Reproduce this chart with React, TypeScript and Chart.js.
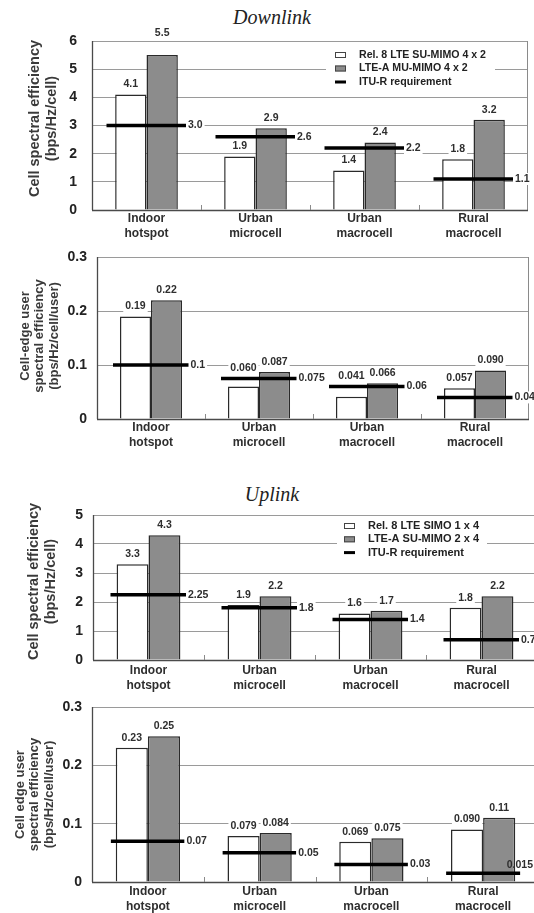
import React, { useEffect, useRef } from 'react';
import { Chart, registerables } from 'chart.js';

Chart.register(...registerables);

// ---------- data ----------
const categories = [
  ['Indoor', 'hotspot'],
  ['Urban', 'microcell'],
  ['Urban', 'macrocell'],
  ['Rural', 'macrocell'],
];

const dlCellRel8 = [4.1, 1.9, 1.4, 1.8];
const dlCellLteA = [5.5, 2.9, 2.4, 3.2];
const dlCellItu = [3.0, 2.6, 2.2, 1.1];

const dlEdgeRel8 = [0.19, 0.06, 0.041, 0.057];
const dlEdgeLteA = [0.22, 0.087, 0.066, 0.09];
const dlEdgeItu = [0.1, 0.075, 0.06, 0.04];

const ulCellRel8 = [3.3, 1.9, 1.6, 1.8];
const ulCellLteA = [4.3, 2.2, 1.7, 2.2];
const ulCellItu = [2.25, 1.8, 1.4, 0.7];

const ulEdgeRel8 = [0.23, 0.079, 0.069, 0.09];
const ulEdgeLteA = [0.25, 0.084, 0.075, 0.11];
const ulEdgeItu = [0.07, 0.05, 0.03, 0.015];

const dlLegend = ['Rel. 8 LTE SU-MIMO 4 x 2', 'LTE-A MU-MIMO 4 x 2', 'ITU-R requirement'];
const ulLegend = ['Rel. 8 LTE SIMO 1 x 4', 'LTE-A SU-MIMO 2 x 4', 'ITU-R requirement'];

const cellTitle = ['Cell spectral efficiency', '(bps/Hz/cell)'];
const dlEdgeTitle = ['Cell-edge user', 'spectral efficiency', '(bps/Hz/cell/user)'];
const ulEdgeTitle = ['Cell edge user', 'spectral efficiency', '(bps/Hz/cell/user)'];

const FONT = '"Liberation Sans", Arial, Helvetica, sans-serif';
Chart.defaults.font.family = FONT;

const WHITE_FILL = '#ffffff';
const GRAY_FILL = '#8c8c8c';
const BAR_BORDER = '#2a2a2a';

type LegendCfg = {
  labels: string[];
  box: [number, number, number, number];
  keyX: number;
  textX: number;
  rowY0: number;
  gap: number;
  size: number;
};

type PanelCfg = {
  top: number;
  width: number;
  height: number;
  padTop: number;
  padRight: number;
  yWidth: number;
  xHeight: number;
  xPad: number;
  yMax: number;
  yStep: number;
  decimals: number;
  tickPad: number;
  title: string[];
  titleSize: number;
  titleLH: number;
  titleX: number;
  titleShift: number;
  rightBorder: boolean;
  lineRadius: number;
  ituFmt: (v: number) => string;
  rel8: number[];
  lteA: number[];
  itu: number[];
  legend?: LegendCfg;
};

const sig2 = (v: number) => v.toPrecision(2);
const raw = (v: number) => String(v);

const panels: PanelCfg[] = [
  {
    top: 28, width: 534, height: 218, padTop: 13, padRight: 6,
    yWidth: 92, xHeight: 36, xPad: 1.5, yMax: 6, yStep: 1, decimals: 0, tickPad: 15,
    title: cellTitle, titleSize: 14.5, titleLH: 17, titleX: 35, titleShift: -7,
    rightBorder: true, lineRadius: 40, ituFmt: sig2,
    rel8: dlCellRel8, lteA: dlCellLteA, itu: dlCellItu,
    legend: { labels: dlLegend, box: [326, 46, 169, 44], keyX: 335, textX: 359, rowY0: 55, gap: 13.5, size: 10.6 },
  },
  {
    top: 246, width: 534, height: 209, padTop: 11, padRight: 5,
    yWidth: 97, xHeight: 36, xPad: 1.5, yMax: 0.3, yStep: 0.1, decimals: 1, tickPad: 10,
    title: dlEdgeTitle, titleSize: 13, titleLH: 14.5, titleX: 25, titleShift: -2,
    rightBorder: true, lineRadius: 38, ituFmt: raw,
    rel8: dlEdgeRel8, lteA: dlEdgeLteA, itu: dlEdgeItu,
  },
  {
    top: 500, width: 540, height: 196, padTop: 15, padRight: 3,
    yWidth: 93, xHeight: 36, xPad: 3.5, yMax: 5, yStep: 1, decimals: 0, tickPad: 10,
    title: cellTitle, titleSize: 14.5, titleLH: 17, titleX: 34, titleShift: -6,
    rightBorder: false, lineRadius: 38, ituFmt: raw,
    rel8: ulCellRel8, lteA: ulCellLteA, itu: ulCellItu,
    legend: { labels: ulLegend, box: [337, 518, 150, 40], keyX: 344, textX: 368, rowY0: 526, gap: 13.3, size: 11 },
  },
  {
    top: 696, width: 540, height: 217, padTop: 11, padRight: 1,
    yWidth: 92, xHeight: 31, xPad: 2.5, yMax: 0.3, yStep: 0.1, decimals: 1, tickPad: 10,
    title: ulEdgeTitle, titleSize: 13, titleLH: 14.5, titleX: 20, titleShift: 0,
    rightBorder: false, lineRadius: 37, ituFmt: raw,
    rel8: ulEdgeRel8, lteA: ulEdgeLteA, itu: ulEdgeItu,
  },
];

const VISIBLE_RIGHT = 534;

function makeDecoPlugin(p: PanelCfg) {
  return {
    id: 'panelDeco',
    afterDatasetsDraw(chart: any) {
      const { ctx, chartArea: ca, scales } = chart;
      const xs = scales.x;
      ctx.save();

      // y-axis title (rotated, multi-line)
      ctx.save();
      ctx.font = `bold ${p.titleSize}px ${FONT}`;
      ctx.fillStyle = '#3a3a3a';
      ctx.textAlign = 'center';
      ctx.textBaseline = 'middle';
      ctx.translate(p.titleX, (ca.top + ca.bottom) / 2 + p.titleShift);
      ctx.rotate(-Math.PI / 2);
      p.title.forEach((line, i) => ctx.fillText(line, 0, i * p.titleLH));
      ctx.restore();

      // frame
      ctx.lineWidth = 1;
      if (p.rightBorder) {
        ctx.strokeStyle = '#8a8a8a';
        ctx.beginPath();
        ctx.moveTo(Math.round(ca.right) - 0.5, ca.top);
        ctx.lineTo(Math.round(ca.right) - 0.5, ca.bottom);
        ctx.stroke();
      }
      ctx.strokeStyle = '#4a4a4a';
      ctx.lineWidth = 1.3;
      ctx.beginPath();
      ctx.moveTo(Math.round(ca.left) + 0.5, ca.top);
      ctx.lineTo(Math.round(ca.left) + 0.5, ca.bottom);
      ctx.moveTo(ca.left, Math.round(ca.bottom) + 0.5);
      ctx.lineTo(ca.right, Math.round(ca.bottom) + 0.5);
      ctx.stroke();
      // small boundary ticks
      ctx.strokeStyle = '#8a8a8a';
      ctx.lineWidth = 1;
      ctx.beginPath();
      for (let i = 0; i < categories.length - 1; i++) {
        const bx = Math.round(xs.getPixelForValue(i + 0.5)) + 0.5;
        ctx.moveTo(bx, ca.bottom);
        ctx.lineTo(bx, ca.bottom - 5);
      }
      ctx.stroke();

      // value labels
      ctx.font = `bold 10.5px ${FONT}`;
      ctx.textBaseline = 'middle';
      const drawLabel = (text: string, x: number, y: number, align: 'center' | 'left', bg: boolean) => {
        const w = ctx.measureText(text).width;
        const left = align === 'center' ? x - w / 2 : x;
        if (bg) {
          ctx.fillStyle = '#ffffff';
          ctx.fillRect(left - 2, y - 6, w + 4, 12);
        }
        ctx.fillStyle = '#2e2e2e';
        ctx.textAlign = 'left';
        ctx.fillText(text, left, y);
      };
      const ituIndex = chart.data.datasets.findIndex((d: any) => d.type === 'line');
      const ituMeta = chart.getDatasetMeta(ituIndex);
      chart.data.datasets.forEach((ds: any, di: number) => {
        const meta = chart.getDatasetMeta(di);
        meta.data.forEach((el: any, j: number) => {
          const v = ds.data[j];
          if (ds.type === 'line') {
            const text = p.ituFmt(v);
            const w = ctx.measureText(text).width;
            let x = el.x + p.lineRadius + 1.5;
            let y = el.y;
            if (x + w > VISIBLE_RIGHT + 3) {
              x = VISIBLE_RIGHT - 1 - w;
              y -= 8;
              drawLabel(text, x, y, 'left', false);
            } else {
              drawLabel(text, x, y, 'left', true);
            }
          } else {
            let y = el.y - 10;
            const ituY = ituMeta.data[j].y;
            // keep the label clear of the requirement line
            if (Math.abs(y - ituY) < 8) y = ituY - 10;
            // keep the label clear of the top frame
            if (y - 6 < ca.top + 2 && y + 6 > ca.top - 2) y = ca.top - 8;
            drawLabel(sig2(v), el.x, y, 'center', true);
          }
        });
      });

      // legend (configured in page coordinates; convert to canvas coordinates)
      const lg = p.legend;
      if (lg) {
        const oy = -p.top;
        ctx.fillStyle = '#ffffff';
        ctx.fillRect(lg.box[0], lg.box[1] + oy, lg.box[2], lg.box[3]);
        ctx.font = `bold ${lg.size}px ${FONT}`;
        ctx.textAlign = 'left';
        ctx.textBaseline = 'middle';
        chart.data.datasets.forEach((ds: any, i: number) => {
          const y = lg.rowY0 + i * lg.gap + oy;
          if (ds.type === 'line') {
            ctx.fillStyle = '#000000';
            ctx.fillRect(lg.keyX, y - 1.5, 11, 3);
          } else {
            ctx.fillStyle = ds.backgroundColor;
            ctx.fillRect(lg.keyX, y - 3, 11, 6);
            ctx.strokeStyle = '#444';
            ctx.lineWidth = 1;
            ctx.strokeRect(lg.keyX + 0.5, y - 2.5, 10, 5);
          }
          ctx.fillStyle = '#222222';
          ctx.fillText(lg.labels[i], lg.textX, y);
        });
      }
      ctx.restore();
    },
  };
}

const zeroPadding = (s: any) => {
  s.paddingTop = 0;
  s.paddingBottom = 0;
  s.paddingLeft = 0;
  s.paddingRight = 0;
};

function Panel({ p }: { p: PanelCfg }) {
  const ref = useRef<HTMLCanvasElement | null>(null);
  useEffect(() => {
    if (!ref.current) return;
    const chart = new Chart(ref.current, {
      type: 'bar',
      data: {
        labels: categories,
        datasets: [
          {
            type: 'bar',
            label: 'rel8',
            data: p.rel8,
            backgroundColor: WHITE_FILL,
            borderColor: BAR_BORDER,
            borderWidth: 1.5,
            categoryPercentage: 0.575,
            barPercentage: 1,
            order: 1,
          },
          {
            type: 'bar',
            label: 'ltea',
            data: p.lteA,
            backgroundColor: GRAY_FILL,
            borderColor: BAR_BORDER,
            borderWidth: 1.5,
            categoryPercentage: 0.575,
            barPercentage: 1,
            order: 1,
          },
          {
            type: 'line',
            label: 'itu',
            data: p.itu,
            showLine: false,
            clip: false,
            pointStyle: 'line',
            pointRadius: p.lineRadius,
            pointHoverRadius: p.lineRadius,
            pointBorderWidth: 3.5,
            pointHoverBorderWidth: 3.5,
            pointBorderColor: '#000000',
            pointBackgroundColor: '#000000',
            borderColor: '#000000',
            order: 0,
          } as any,
        ],
      },
      options: {
        responsive: false,
        animation: false,
        devicePixelRatio: 1,
        events: [],
        layout: { autoPadding: false, padding: { top: p.padTop, right: p.padRight, bottom: 0, left: 0 } },
        plugins: {
          legend: { display: false },
          tooltip: { enabled: false },
          title: { display: false },
        },
        scales: {
          x: {
            type: 'category',
            offset: true,
            grid: { display: false, drawTicks: false, tickLength: 0 },
            border: { display: false },
            ticks: {
              autoSkip: false,
              maxRotation: 0,
              minRotation: 0,
              padding: p.xPad,
              color: '#2e2e2e',
              font: { size: 12, weight: 'bold', lineHeight: 1.25 },
            },
            afterFit: (s: any) => {
              s.height = p.xHeight;
              zeroPadding(s);
            },
          },
          y: {
            min: 0,
            max: p.yMax,
            grid: { color: '#9a9a9a', lineWidth: 1, drawTicks: false },
            border: { display: false },
            ticks: {
              stepSize: p.yStep,
              padding: p.tickPad,
              color: '#222222',
              font: { size: 14, weight: 'bold' },
              callback: (v: any) => (Number(v) === 0 ? '0' : Number(v).toFixed(p.decimals)),
            },
            title: { display: false },
            afterFit: (s: any) => {
              s.width = p.yWidth;
              zeroPadding(s);
            },
          },
        },
      } as any,
      plugins: [makeDecoPlugin(p)],
    });
    return () => chart.destroy();
  }, [p]);
  return (
    <canvas
      ref={ref}
      width={p.width}
      height={p.height}
      style={{ position: 'absolute', left: 0, top: p.top, width: p.width, height: p.height }}
    />
  );
}

const titleStyle = (top: number): React.CSSProperties => ({
  position: 'absolute',
  left: 0,
  width: 544,
  top,
  height: 22,
  lineHeight: '22px',
  textAlign: 'center',
  fontFamily: '"Liberation Serif", "Times New Roman", serif',
  fontStyle: 'italic',
  fontSize: 20,
  color: '#222',
});

export default function App() {
  return (
    <div
      style={{
        position: 'fixed',
        left: 0,
        top: 0,
        width: 534,
        height: 913,
        overflow: 'hidden',
        background: '#ffffff',
      }}
    >
      <div style={titleStyle(6)}>Downlink</div>
      <div style={titleStyle(483)}>Uplink</div>
      {panels.map((p, i) => (
        <Panel key={i} p={p} />
      ))}
    </div>
  );
}
